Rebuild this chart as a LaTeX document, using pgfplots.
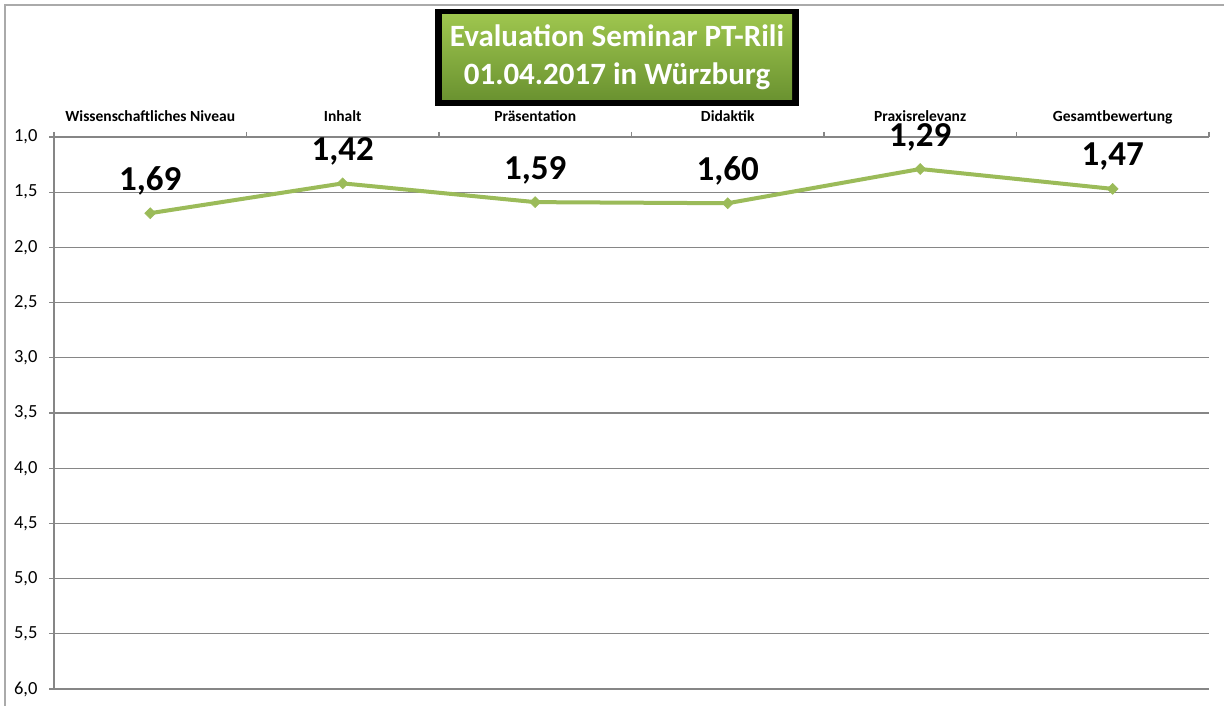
\documentclass[border=0pt]{standalone}
\usepackage{pgfplots}
\pgfplotsset{compat=1.18}
\usepackage{fontspec}
\setmainfont{Carlito}
\definecolor{linegreen}{RGB}{155,187,89}
\definecolor{gridgray}{RGB}{134,134,134}
\definecolor{bordergray}{RGB}{170,170,170}
\definecolor{titletop}{RGB}{158,197,78}
\definecolor{titlebot}{RGB}{106,146,48}
\begin{document}
\begin{tikzpicture}[x=1bp,y=1bp]
\useasboundingbox (0,0) rectangle (1224,706);
\fill[white] (0,0) rectangle (1224,706);
\draw[bordergray, line width=1.5bp] (5,0) -- (5,701) -- (1224,701);
\begin{axis}[
  at={(54bp,17bp)}, anchor=south west,
  width=1155bp, height=552bp, scale only axis,
  xmin=-0.5, xmax=5.5, ymin=1, ymax=6,
  y dir=reverse,
  axis x line*=top, axis y line*=left,
  axis line style={gridgray, line width=1.2bp, -},
  xtick={0,...,5},
  xticklabels={Wissenschaftliches Niveau,Inhalt,Präsentation,Didaktik,Praxisrelevanz,Gesamtbewertung},
  major x tick style={draw=none},
  minor xtick={-0.5,0.5,1.5,2.5,3.5,4.5,5.5},
  minor x tick style={gridgray, line width=1.2bp},
  minor tick length=5bp,
  xticklabel style={font=\fontsize{15.5bp}{18bp}\selectfont\bfseries, anchor=base, yshift=10bp},
  ytick={1,1.5,...,6},
  ymajorgrids,
  grid style={gridgray, line width=1.2bp},
  major y tick style={gridgray, line width=1.2bp},
  tick align=outside,
  major tick length=5bp,
  yticklabel style={font=\fontsize{18.5bp}{21bp}\selectfont, anchor=east, xshift=-8bp},
  /pgf/number format/.cd, fixed, fixed zerofill, precision=1, use comma, assume math mode=true,
  /pgfplots/.cd,
  clip=false,
  point meta=explicit symbolic,
  nodes near coords,
  every node near coord/.append style={anchor=center, yshift=32bp, font=\fontsize{35bp}{40bp}\selectfont\bfseries, text=black},
]
\addplot[color=linegreen, line width=4bp, mark=square*, mark size=3.9bp,
  mark options={rotate=45, fill=linegreen, draw=linegreen, line width=0.5bp}]
  coordinates {(0,1.69)[1,69] (1,1.42)[1,42] (2,1.59)[1,59] (3,1.60)[1,60] (4,1.29)[1,29] (5,1.47)[1,47]};
\end{axis}
\fill[black] (435,600) rectangle (799,696.5);
\shade[top color=titletop, bottom color=titlebot] (442,606) rectangle (792,691);
\node[anchor=base, text=white, font=\fontsize{31bp}{36bp}\selectfont\bfseries, inner sep=0] at (617,659) {Evaluation Seminar PT-Rili};
\node[anchor=base, text=white, font=\fontsize{31bp}{36bp}\selectfont\bfseries, inner sep=0] at (617,621) {01.04.2017 in Würzburg};
\end{tikzpicture}
\end{document}
